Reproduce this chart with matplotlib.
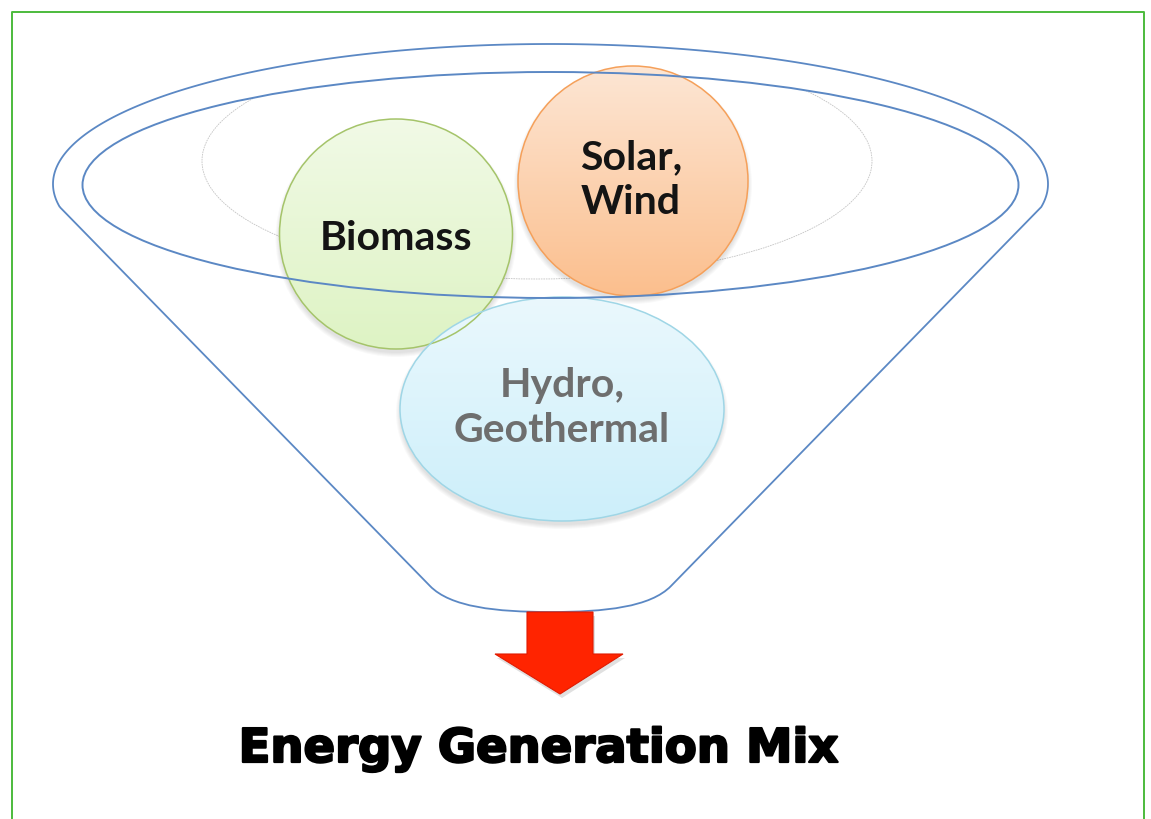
import numpy as np
import matplotlib
matplotlib.use("Agg")
import matplotlib.pyplot as plt
from matplotlib.patches import Ellipse, Polygon, PathPatch
from matplotlib.path import Path
from matplotlib.colors import LinearSegmentedColormap
import matplotlib.patheffects as pe

# ── Content ──────────────────────────────────────────────────────────────────
SOURCES  = ["Biomass", "Solar,\nWind", "Hydro,\nGeothermal"]
TITLE    = "Energy Generation Mix"

# ── Geometry (pixel space, y down) ───────────────────────────────────────────
W, H = 1151, 820
BUBBLE_XY = [(396, 235), (633, 182), (562, 410)]
BUBBLE_WH = [(233, 230), (230, 230), (324, 224)]
LABEL_XY  = [(396, 238), (631, 180), (562, 408)]
BUBBLE_TOP = ["#f1fae6", "#fde6d4", "#eaf8fd"]
BUBBLE_BOT = ["#def3c4", "#fbbf8e", "#cdeffa"]
BUBBLE_EDGE = ["#a5c46a", "#f5a05a", "#9fd6e6"]
TEXT_COLOR = ["#141414", "#141414", "#6e6e6e"]

FUNNEL_C = "#5b88c4"
CX = 550.5

fig = plt.figure(figsize=(W / 100, H / 100), dpi=100)
ax = fig.add_axes([0, 0, 1, 1])
ax.set_xlim(0, W)
ax.set_ylim(H, 0)
ax.axis("off")

# green frame (open at the bottom)
ax.plot([12, 12, 1144, 1144], [H, 13, 13, H], color="#4cbb3c", lw=1.4, zorder=1)

# inner rim ellipse (also clips the faint grey ellipse)
rim = Ellipse((CX, 186), 936, 226, fill=False, ec=FUNNEL_C, lw=1.4, zorder=6)
ax.add_patch(rim)

grey = Ellipse((537, 162), 670, 236, fill=False, ec="#c4c4c4",
               lw=0.6, ls=(0, (2, 1)), zorder=2)
ax.add_patch(grey)
grey.set_clip_path(Ellipse((CX, 186), 936, 226, transform=ax.transData))

# bubbles with soft shadow + vertical gradient
for (x, y), (w, h), c0, c1, ec in zip(BUBBLE_XY, BUBBLE_WH, BUBBLE_TOP,
                                      BUBBLE_BOT, BUBBLE_EDGE):
    for k in range(5):
        ax.add_patch(Ellipse((x, y + 4), w + 2 * k, h + 2 * k, fc="#000000",
                             ec="none", alpha=0.025, zorder=3))
    e = Ellipse((x, y), w, h, fc="none", ec=ec, lw=1.1, zorder=5)
    ax.add_patch(e)
    cmap = LinearSegmentedColormap.from_list("g", [c0, c1])
    im = ax.imshow(np.linspace(0, 1, 64).reshape(-1, 1), cmap=cmap,
                   extent=(x - w / 2, x + w / 2, y + h / 2, y - h / 2),
                   aspect="auto", zorder=4, interpolation="bilinear")
    im.set_clip_path(Ellipse((x, y), w, h, transform=ax.transData))

# funnel outline: top half of outer ellipse, straight sides, rounded spout
a, b, cy = 497.5, 140, 185
t0 = np.arcsin(23 / b)
t = np.linspace(np.pi + t0, -t0, 300)
arc = np.column_stack([CX + a * np.cos(t), cy - b * np.sin(t)])
right_end = (CX + 120.5, 587)
left_end = (CX - 120.5, 587)
verts = list(map(tuple, arc))
codes = [Path.MOVETO] + [Path.LINETO] * (len(verts) - 1)
verts += [right_end,
          (CX + 100, 608), (CX + 55, 613), (CX, 613),
          (CX - 55, 613), (CX - 100, 608), left_end,
          tuple(arc[0])]
codes += [Path.LINETO,
          Path.CURVE4, Path.CURVE4, Path.CURVE4,
          Path.CURVE4, Path.CURVE4, Path.CURVE4,
          Path.LINETO]
ax.add_patch(PathPatch(Path(verts, codes), fill=False, ec=FUNNEL_C,
                       lw=1.3, zorder=6))

# bubble labels
for (x, y), s, c in zip(LABEL_XY, SOURCES, TEXT_COLOR):
    ax.text(x, y, s, ha="center", va="center", fontsize=29.5,
            fontweight="bold", family="Lato", color=c, linespacing=1.28,
            zorder=7)

# red arrow
arrow = [(527, 613), (593, 613), (593, 655), (623, 655), (560, 695),
         (495, 655), (527, 655)]
ax.add_patch(Polygon([(px + 2, py + 4) for px, py in arrow], closed=True,
                     fc="#000000", ec="none", alpha=0.12, zorder=6))
ax.add_patch(Polygon(arrow, closed=True, fc="#ff2400", ec="#e01a00",
                     lw=0.8, zorder=7))

# title
ax.text(538, 763, TITLE, ha="center", va="baseline", fontsize=33.5,
        fontweight="heavy", family="DejaVu Sans", color="black", zorder=7,
        path_effects=[pe.withStroke(linewidth=1.6, foreground="black")])

fig.savefig("out.png", dpi=100)
